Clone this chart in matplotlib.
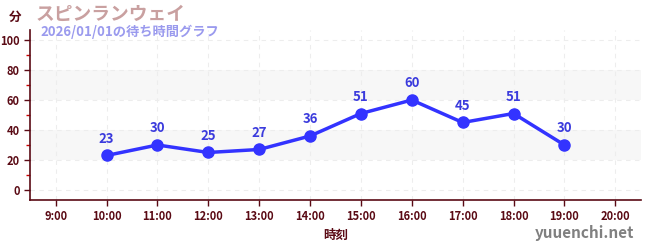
import matplotlib
matplotlib.use("Agg")
import matplotlib.pyplot as plt
from matplotlib.ticker import MultipleLocator

plt.rcParams['font.family'] = ['Noto Sans CJK JP', 'DejaVu Sans']

hours = [10, 11, 12, 13, 14, 15, 16, 17, 18, 19]
waits = [23, 30, 25, 27, 36, 51, 60, 45, 51, 30]
tick_hours = list(range(9, 21))
tick_labels = [f"{h}:00" for h in tick_hours]
title = "スピンランウェイ"
subtitle = "2026/01/01の待ち時間グラフ"
ylabel = "分"
xlabel = "時刻"
site = "yuuenchi.net"

axis_col = "#5a0a14"
line_col = "#3333ff"

fig = plt.figure(figsize=(6.5, 2.5), dpi=100)
ax = fig.add_axes([0.0466, 0.2, 0.9391, 0.68])

ax.set_xlim(8.5, 20.5)
ax.set_ylim(-6.7, 106.7)

for lo, hi in [(20, 40), (60, 80)]:
    ax.axhspan(lo, hi, color="#f7f7f7", zorder=0, lw=0)

ax.set_xticks(tick_hours)
ax.set_xticklabels(tick_labels)
ax.set_yticks([0, 20, 40, 60, 80, 100])
ax.yaxis.set_minor_locator(MultipleLocator(10))
ax.grid(True, which="major", color="#ededed", linestyle=(0, (4, 4)), lw=0.8, zorder=1)

ax.plot(hours, waits, color=line_col, lw=2.5, marker="o", ms=8, zorder=3)
for h, w in zip(hours, waits):
    ax.annotate(str(w), (h, w), xytext=(0, 7), textcoords="offset points",
                ha="center", va="bottom", color="#3b3bdd", fontsize=9.5,
                fontweight="bold", zorder=4)

for s in ["top", "right"]:
    ax.spines[s].set_visible(False)
for s in ["left", "bottom"]:
    ax.spines[s].set_color(axis_col)
    ax.spines[s].set_linewidth(1.2)

ax.tick_params(axis="both", which="major", colors=axis_col, labelsize=8, length=4, width=1)
ax.tick_params(axis="y", which="minor", colors="#cc0000", length=3, width=1)
for lbl in ax.get_xticklabels() + ax.get_yticklabels():
    lbl.set_fontweight("bold")
    lbl.set_color(axis_col)

ax.set_xlabel(xlabel, color=axis_col, fontsize=9, fontweight="bold", labelpad=4)

fig.text(15 / 650, 1 - 17 / 250, ylabel, color=axis_col, fontsize=9, fontweight="bold",
         ha="center", va="center")
fig.text(36 / 650, 1 - 14 / 250, title, color="#c9a0a0", fontsize=13.5, fontweight="bold",
         ha="left", va="center")
fig.text(40 / 650, 1 - 32 / 250, subtitle, color="#9a9aee", fontsize=9.5, fontweight="bold",
         ha="left", va="center")
fig.text(634 / 650, 1 - 233 / 250, site, color="#808080", fontsize=11, fontweight="bold",
         ha="right", va="center")

fig.savefig("out.png", dpi=100)
